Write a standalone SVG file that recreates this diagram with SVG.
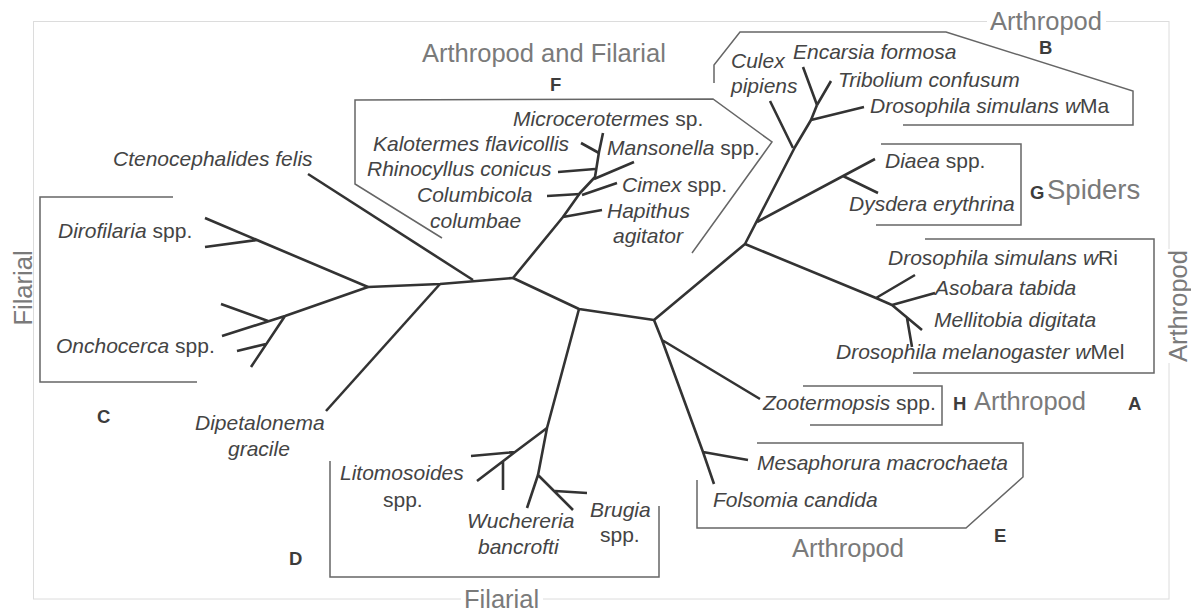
<svg xmlns="http://www.w3.org/2000/svg" width="1191" height="611" viewBox="0 0 1191 611">
<style>
text{font-family:"Liberation Sans",Arial,Helvetica,sans-serif}
.sp{font-size:21px;font-style:italic;fill:#444}
.rm{font-style:normal}
.grp{font-size:25.5px;fill:#7a7a7a}
.let{font-size:18.5px;font-weight:bold;fill:#3c3c3c}
.br{fill:none;stroke:#666;stroke-width:1.5}
.tree{fill:none;stroke:#333;stroke-width:2.6;stroke-linejoin:round;stroke-linecap:butt}
.bg{fill:#fff}
</style>
<rect x="0" y="0" width="1191" height="611" fill="#fff"/>
<rect id="frame" x="33.5" y="21.5" width="1135.5" height="577.5" fill="none" stroke="#dcdcdc" stroke-width="1"/>

<g id="connectors" class="tree">
  <path d="M368,287 L440,284 L513,278"/>
  <path d="M513,278 L579,309 L654,320 L745,244 L795,147 L811,120 L817,105"/>
  <path d="M473,280 L308,174"/>
  <path d="M440,284 L326,411"/>
  <path d="M368,287 L205,218 M257,240 L205,247"/>
  <path d="M368,287 L285,316 L222,336 M268,321 L221,304 M285,316 L251,367 M266,344 L237,351"/>
  <path d="M513,278 L563,217 L580,193 L595,177 L599,152 L603,133"/>
  <path d="M563,217 L602,210 M547,196 L580,194 M582,195 L617,183 M558,172 L595,169 M594,179 L634,162 M581,143 L599,153"/>
  <path d="M793,148 L770,101 M811,120 L864,107 M817,105 L803,67 M817,105 L831,81"/>
  <path d="M757,222 L875,159 M843,176 L878,193"/>
  <path d="M745,244 L876,298 L892,305 L922,330 M876,298 L915,275 M892,305 L935,293 M907,318 L912,347"/>
  <path d="M654,320 L662,340 L760,399 M662,340 L703,452 L714,484 M703,452 L748,460"/>
  <path d="M579,309 L547,428 L538,475 L527,508 M538,475 L573,510 M555,491 L587,493"/>
  <path d="M547,428 L515,452 L477,481 M515,452 L471,456 M503,461 L503,490"/>
</g>

<g id="cladeF">
  <path class="br" d="M442,238 L355,184 L355,100 L713,99 L772,142 L692,253"/>
  <text class="grp" x="422" y="62">Arthropod and Filarial</text>
  <text class="let" x="550" y="91">F</text>
</g>
<g id="cladeB">
  <path class="br" d="M714,83 L714,65 L740,32 L946,32 L1133,91 L1133,125 L903,125"/>
  <rect class="bg" x="987" y="10" width="119" height="24"/>
  <text class="grp" x="990" y="30">Arthropod</text>
  <text class="let" x="1039" y="54">B</text>
</g>
<g id="cladeG">
  <path class="br" d="M881,144 L1021,144 L1021,225 L876,225"/>
  <text class="let" x="1030" y="199">G</text>
  <text class="grp" x="1047" y="199" style="font-size:27.5px">Spiders</text>
</g>
<g id="cladeA">
  <path class="br" d="M925,239 L1154,239 L1154,373 L913,373"/>
  <rect class="bg" x="1165" y="249" width="26" height="114"/>
  <text class="grp" transform="translate(1187,306) rotate(-90)" text-anchor="middle">Arthropod</text>
  <text class="let" x="1128" y="410">A</text>
</g>
<g id="cladeH">
  <path class="br" d="M803,386 L942,386 L942,425 L810,425"/>
  <text class="let" x="953" y="410">H</text>
  <text class="grp" x="974" y="410">Arthropod</text>
</g>
<g id="cladeE">
  <path class="br" d="M757,443 L1023,443 L1023,477 L966,528 L697,528 L697,480"/>
  <text class="let" x="994" y="542">E</text>
  <text class="grp" x="792" y="557">Arthropod</text>
</g>
<g id="cladeD">
  <path class="br" d="M330,461 L330,577 L659,577 L659,506"/>
  <text class="let" x="289" y="565">D</text>
  <rect class="bg" x="461" y="589" width="82" height="22"/>
  <text class="grp" x="464" y="608">Filarial</text>
</g>
<g id="cladeC">
  <path class="br" d="M173,197 L40,197 L40,382 L197,382"/>
  <text class="let" x="97" y="423">C</text>
  <text class="grp" transform="translate(32,288) rotate(-90)" text-anchor="middle">Filarial</text>
</g>

<g id="taxa">
  <g id="t-ctenocephalides"><text class="sp" x="113" y="166">Ctenocephalides felis</text></g>
  <g id="t-dirofilaria"><text class="sp" x="58" y="238">Dirofilaria<tspan class="rm"> spp.</tspan></text></g>
  <g id="t-onchocerca"><text class="sp" x="56" y="353">Onchocerca<tspan class="rm"> spp.</tspan></text></g>
  <g id="t-dipetalonema"><text class="sp" x="195" y="430">Dipetalonema</text><text class="sp" x="228" y="456">gracile</text></g>
  <g id="t-litomosoides"><text class="sp" x="340" y="480">Litomosoides</text><text class="sp rm" x="383" y="507">spp.</text></g>
  <g id="t-wuchereria"><text class="sp" x="467" y="528">Wuchereria</text><text class="sp" x="478" y="554">bancrofti</text></g>
  <g id="t-brugia"><text class="sp" x="590" y="517">Brugia</text><text class="sp rm" x="600" y="542">spp.</text></g>
  <g id="t-microcerotermes"><text class="sp" x="513" y="126">Microcerotermes<tspan class="rm"> sp.</tspan></text></g>
  <g id="t-kalotermes"><text class="sp" x="373" y="151">Kalotermes flavicollis</text></g>
  <g id="t-mansonella"><text class="sp" x="607" y="155">Mansonella<tspan class="rm"> spp.</tspan></text></g>
  <g id="t-rhinocyllus"><text class="sp" x="367" y="176">Rhinocyllus conicus</text></g>
  <g id="t-cimex"><text class="sp" x="622" y="192">Cimex<tspan class="rm"> spp.</tspan></text></g>
  <g id="t-columbicola"><text class="sp" x="417" y="202">Columbicola</text><text class="sp" x="430" y="228">columbae</text></g>
  <g id="t-hapithus"><text class="sp" x="607" y="218">Hapithus</text><text class="sp" x="613" y="243">agitator</text></g>
  <g id="t-culex"><text class="sp" x="731" y="68">Culex</text><text class="sp" x="731" y="93">pipiens</text></g>
  <g id="t-encarsia"><text class="sp" x="793" y="59">Encarsia formosa</text></g>
  <g id="t-tribolium"><text class="sp" x="838" y="87">Tribolium confusum</text></g>
  <g id="t-wma"><text class="sp" x="870" y="113">Drosophila simulans w<tspan class="rm">Ma</tspan></text></g>
  <g id="t-diaea"><text class="sp" x="885" y="168">Diaea<tspan class="rm"> spp.</tspan></text></g>
  <g id="t-dysdera"><text class="sp" x="849" y="211">Dysdera erythrina</text></g>
  <g id="t-wri"><text class="sp" x="888" y="265">Drosophila simulans w<tspan class="rm">Ri</tspan></text></g>
  <g id="t-asobara"><text class="sp" x="935" y="295">Asobara tabida</text></g>
  <g id="t-mellitobia"><text class="sp" x="934" y="327">Mellitobia digitata</text></g>
  <g id="t-wmel"><text class="sp" x="836" y="359">Drosophila melanogaster w<tspan class="rm">Mel</tspan></text></g>
  <g id="t-zootermopsis"><text class="sp" x="763" y="410">Zootermopsis<tspan class="rm"> spp.</tspan></text></g>
  <g id="t-mesaphorura"><text class="sp" x="757" y="470">Mesaphorura macrochaeta</text></g>
  <g id="t-folsomia"><text class="sp" x="713" y="507">Folsomia candida</text></g>
</g>
</svg>
